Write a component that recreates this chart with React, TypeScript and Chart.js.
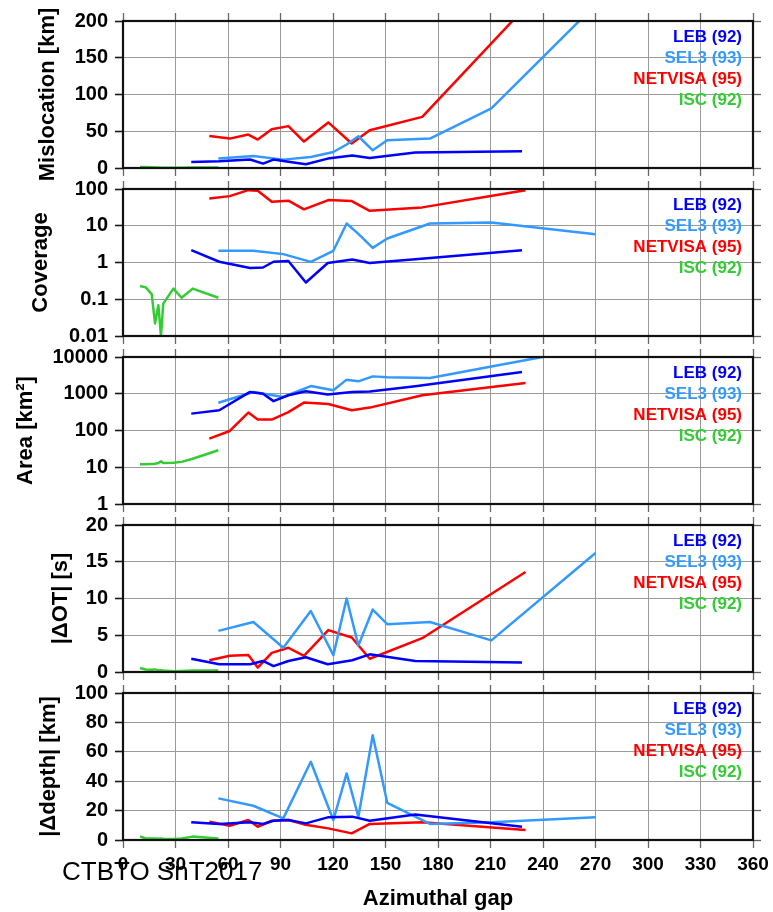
import React, { useEffect, useRef } from 'react';
import { Chart, registerables } from 'chart.js';

Chart.register(...registerables);

// ---------- data ----------
const xTicks = [0, 30, 60, 90, 120, 150, 180, 210, 240, 270, 300, 330, 360];

const seriesNames = ['LEB', 'SEL3', 'NETVISA', 'ISC'];
const seriesCounts = [92, 93, 95, 92];
const seriesColors = ['#0000ff', '#3399ff', '#ff0000', '#33cc33'];

// LEB
const lebGap = [39, 55, 72.6, 80, 86, 94.5, 104.5, 117, 131, 141, 167, 228];
const lebMisloc = [8.2, 9.1, 11.5, 6, 11.5, 8.5, 5, 12.8, 16.9, 13.6, 21, 22.8];
const lebCoverage = [2.16, 1.05, 0.71, 0.73, 1.05, 1.1, 0.285, 0.97, 1.2, 0.97, 1.23, 2.16];
const lebArea = [288, 355, 1120, 1000, 630, 910, 1170, 950, 1120, 1150, 1600, 3900];
const lebOT = [1.8, 1.05, 1.05, 1.5, 0.8, 1.5, 2.0, 1.05, 1.6, 2.4, 1.5, 1.3];
const lebDepth = [12, 10.9, 12, 10.9, 13.1, 13.6, 11.3, 15.4, 15.9, 13.1, 17.4, 9.0];

// SEL3
const selGap = [54.5, 74.5, 91.6, 107.3, 120.2, 127.8, 134.5, 142.7, 151, 175.4, 210.5, 270];
const selMisloc = [12.8, 16.4, 11.4, 15, 21.8, 32, 43.2, 24.1, 37.8, 40, 81, 222];
const selCoverage = [2.08, 2.08, 1.69, 1.04, 2.08, 11.5, 6, 2.5, 4.5, 11.5, 12.3, 5.9];
const selArea = [570, 1120, 815, 1620, 1240, 2420, 2180, 2970, 2800, 2700, 5500, 18600];
const selOT = [5.6, 6.8, 3.3, 8.3, 2.3, 10, 3.6, 8.5, 6.5, 6.8, 4.3, 16.2];
const selDepth = [28.3, 23.3, 14.7, 53.2, 13.6, 45.3, 15.8, 71.3, 25.3, 10.9, 12, 15.4];

// NETVISA
const netGap = [49.3, 61, 71.6, 77, 85, 94.5, 103.4, 117.3, 130.7, 141, 171, 230];
const netMisloc = [43.6, 40, 45.5, 38.7, 52.8, 57, 36, 62, 33.3, 51.4, 69.6, 219];
const netCoverage = [55, 64, 93, 90, 45, 48, 28, 50, 47, 25.5, 31.6, 93];
const netArea = [60, 97, 308, 198, 198, 316, 575, 525, 355, 420, 910, 1960];
const netOT = [1.6, 2.2, 2.3, 0.6, 2.6, 3.3, 2.2, 5.7, 4.7, 1.8, 4.6, 13.6];
const netDepth = [12.4, 9.7, 13.6, 9.0, 13.1, 13.6, 10.6, 7.9, 4.5, 10.9, 12, 6.8];

// ISC
const iscGap = [9.7, 13, 16.4, 18.3, 20.2, 21.7, 23, 28.8, 33.5, 39.8, 54.5];
const iscMisloc = [1.5, 1.2, 1, 0.8, 0.6, 0.5, 0.5, 0.5, 0.5, 0.8, 0.8];
const iscCoverage = [0.23, 0.21, 0.138, 0.022, 0.069, 0.01, 0.076, 0.195, 0.11, 0.195, 0.11];
const iscArea = [12, 12, 12.3, 12.5, 13, 14.5, 13, 13.3, 14, 17, 29];
const iscOT = [0.55, 0.35, 0.3, 0.35, 0.2, 0.25, 0.2, 0.1, 0.15, 0.2, 0.2];
const iscDepth = [2.5, 1, 1, 1, 0.8, 1, 0.8, 0.6, 1, 2.3, 1];

const misTicks = [0, 50, 100, 150, 200];
const covTicks = [0.01, 0.1, 1, 10, 100];
const areaTicks = [1, 10, 100, 1000, 10000];
const otTicks = [0, 5, 10, 15, 20];
const depthTicks = [0, 20, 40, 60, 80, 100];

const xTitle = 'Azimuthal gap';
const stampText = 'CTBTO SnT2017';

// ---------- panel setup ----------
const FONT = '"Liberation Sans", Arial, Helvetica, sans-serif';

const panels = [
  { title: 'Mislocation [km]', log: false, ticks: misTicks, titleX: 54,
    values: [lebMisloc, selMisloc, netMisloc, iscMisloc] },
  { title: 'Coverage', log: true, ticks: covTicks, titleX: 47,
    values: [lebCoverage, selCoverage, netCoverage, iscCoverage] },
  { title: 'Area [km\u00B2]', log: true, ticks: areaTicks, titleX: 32,
    values: [lebArea, selArea, netArea, iscArea] },
  { title: '|\u0394OT| [s]', log: false, ticks: otTicks, titleX: 67,
    values: [lebOT, selOT, netOT, iscOT] },
  { title: '|\u0394depth| [km]', log: false, ticks: depthTicks, titleX: 55,
    values: [lebDepth, selDepth, netDepth, iscDepth] },
];
const gaps = [lebGap, selGap, netGap, iscGap];

const PANEL_STEP = 168;
const CANVAS_H = 180;
const LAST_H = 240;

const framePlugin = {
  id: 'frame',
  afterDraw(chart: any, _args: any, o: any) {
    const ctx: CanvasRenderingContext2D = chart.ctx;
    const { left, right, top, bottom } = chart.chartArea;
    ctx.save();
    // frame
    ctx.strokeStyle = '#111111';
    ctx.lineWidth = 2.2;
    ctx.strokeRect(left, top, right - left, bottom - top);
    // legend
    ctx.font = `bold 17px ${FONT}`;
    ctx.textAlign = 'right';
    ctx.textBaseline = 'alphabetic';
    seriesNames.forEach((nm, i) => {
      ctx.fillStyle = seriesColors[i];
      ctx.fillText(`${nm} (${seriesCounts[i]})`, right - 11, top + 20.7 + i * 21.1);
    });
    // bottom-panel extras
    if (o.last) {
      ctx.fillStyle = '#000';
      ctx.font = `bold 22px ${FONT}`;
      ctx.textAlign = 'center';
      ctx.fillText(xTitle, (left + right) / 2, bottom + 65);
      ctx.font = `26px ${FONT}`;
      ctx.textAlign = 'left';
      ctx.fillText(stampText, 62, bottom + 40);
    }
    // y title
    ctx.fillStyle = '#000';
    ctx.font = `bold 22px ${FONT}`;
    ctx.textAlign = 'center';
    ctx.translate(o.titleX, (top + bottom) / 2);
    ctx.rotate(-Math.PI / 2);
    ctx.fillText(o.title, 0, 0);
    ctx.restore();
  },
};

function noPad(s: any) {
  s.paddingTop = 0;
  s.paddingBottom = 0;
  s.paddingLeft = 0;
  s.paddingRight = 0;
}

const GRID = '#9a9a9a';
const TICKMARK = '#666666';

function makeConfig(p: any, idx: number) {
  const last = idx === panels.length - 1;
  const yType = p.log ? 'logarithmic' : 'linear';
  const yMin = p.ticks[0];
  const yMax = p.ticks[p.ticks.length - 1];
  const setX = (s: any) => { s.ticks = xTicks.map((v) => ({ value: v })); };
  const setY = (s: any) => { s.ticks = p.ticks.map((v: number) => ({ value: v })); };
  const datasets = gaps.map((g, i) => ({
    label: seriesNames[i],
    data: g.map((x, j) => ({ x, y: p.values[i][j] })),
    borderColor: seriesColors[i],
    backgroundColor: seriesColors[i],
    borderWidth: 2.5,
    pointRadius: 0,
    tension: 0,
    fill: false,
    borderJoinStyle: 'round',
    xAxisID: 'x',
    yAxisID: 'y',
  }));
  return {
    type: 'line',
    data: { datasets },
    plugins: [framePlugin],
    options: {
      responsive: false,
      animation: false,
      events: [],
      layout: { padding: { left: 0, right: 20, top: 21, bottom: last ? 0 : 12 } },
      plugins: {
        legend: { display: false },
        tooltip: { enabled: false },
        frame: { title: p.title, titleX: p.titleX, last },
      },
      scales: {
        x: {
          type: 'linear',
          position: 'bottom',
          min: 0,
          max: 360,
          afterBuildTicks: setX,
          afterFit: (s: any) => { s.height = last ? 72 : 0; noPad(s); },
          grid: { color: GRID, lineWidth: 1, drawTicks: true, tickLength: 8, tickColor: TICKMARK, tickWidth: 1.3 },
          border: { display: false },
          ticks: {
            display: last,
            color: '#000',
            padding: 5,
            maxRotation: 0,
            autoSkip: false,
            font: { family: FONT, size: 19, weight: 'bold' },
            callback: (v: any) => String(v),
          },
        },
        xTop: {
          type: 'linear',
          position: 'top',
          min: 0,
          max: 360,
          afterBuildTicks: setX,
          afterFit: (s: any) => { s.height = 0; noPad(s); },
          grid: { drawOnChartArea: false, drawTicks: true, tickLength: 8, tickColor: TICKMARK, tickWidth: 1.3 },
          border: { display: false },
          ticks: { display: false },
        },
        y: {
          type: yType,
          position: 'left',
          min: yMin,
          max: yMax,
          afterBuildTicks: setY,
          afterFit: (s: any) => { s.width = 123; noPad(s); },
          grid: { color: GRID, lineWidth: 1, drawTicks: true, tickLength: 8, tickColor: '#1a1a1a', tickWidth: 1.6 },
          border: { display: false },
          ticks: {
            color: '#000',
            padding: 7,
            autoSkip: false,
            font: { family: FONT, size: 20, weight: 'bold' },
            callback: (v: any) => String(v),
          },
        },
        yRight: {
          type: yType,
          position: 'right',
          min: yMin,
          max: yMax,
          afterBuildTicks: setY,
          afterFit: (s: any) => { s.width = 0; noPad(s); },
          grid: { drawOnChartArea: false, drawTicks: true, tickLength: 8, tickColor: TICKMARK, tickWidth: 1.3 },
          border: { display: false },
          ticks: { display: false },
        },
      },
    },
  };
}

export default function App() {
  const refs = useRef<(HTMLCanvasElement | null)[]>([]);
  useEffect(() => {
    const charts = panels.map((p, i) => new Chart(refs.current[i] as any, makeConfig(p, i) as any));
    return () => charts.forEach((c) => c.destroy());
  }, []);
  return (
    <div style={{ position: 'absolute', left: 0, top: 0, width: 773, height: 912, background: '#fff' }}>
      {panels.map((p, i) => {
        const h = i === panels.length - 1 ? LAST_H : CANVAS_H;
        return (
          <canvas
            key={i}
            ref={(el) => { refs.current[i] = el; }}
            width={773}
            height={h}
            style={{ position: 'absolute', left: 0, top: i * PANEL_STEP, width: 773, height: h }}
          />
        );
      })}
    </div>
  );
}
